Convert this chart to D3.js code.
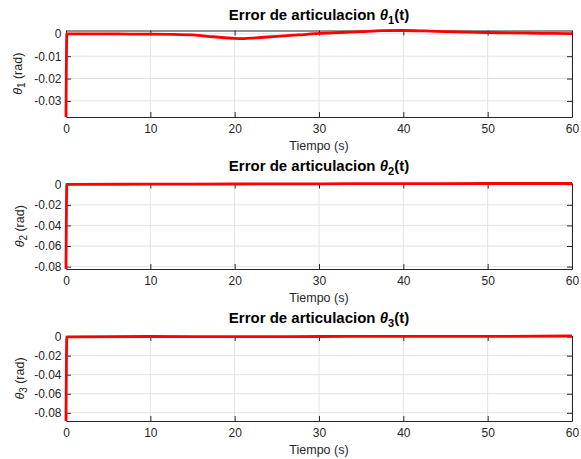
<!DOCTYPE html>
<html>
<head>
<meta charset="utf-8">
<script src="https://cdn.jsdelivr.net/npm/d3@7"></script>
<style>
  body { margin: 0; background: #fff; }
  text { font-family: "Liberation Sans", Arial, sans-serif; }
</style>
</head>
<body>
<svg id="chart" width="581" height="459"></svg>
<script>
// time samples (s)
const tiempo1 = [0, 0.1, 2.5, 5, 7.5, 10, 12.5, 15, 17.5, 20, 21, 22.5, 25, 27.5, 30, 32.5, 35, 37.5, 40, 42.5, 45, 47.5, 50, 52.5, 55, 57.5, 60];
const error1 = [-0.0372, 0, 0, 0, -0.0001, -0.0001, -0.0002, -0.0005, -0.0013, -0.0020, -0.0021, -0.0018, -0.0011, -0.0005, 0.0002, 0.0006, 0.0010, 0.0014, 0.0015, 0.0013, 0.0010, 0.0008, 0.0006, 0.0004, 0.0003, 0.0002, 0.0001];

const tiempo2 = [0, 0.1, 10, 20, 30, 40, 50, 60];
const error2 = [-0.0823, -0.0002, 0, 0.0002, 0.0004, 0.0006, 0.0007, 0.0007];

const tiempo3 = [0, 0.1, 10, 20, 30, 40, 50, 60];
const error3 = [-0.0886, -0.0003, 0.0001, -0.0001, 0.0001, 0.0003, 0.0002, 0.0006];

const xTicks = [0, 10, 20, 30, 40, 50, 60];
const yTicks1 = [0, -0.01, -0.02, -0.03];
const yTicks23 = [0, -0.02, -0.04, -0.06, -0.08];

const panels = [
  { sub: "1", t: tiempo1, e: error1, ticks: yTicks1, top: 30.5, bottom: 117, titleY: 20, labelX: 22 },
  { sub: "2", t: tiempo2, e: error2, ticks: yTicks23, top: 183.5, bottom: 269, titleY: 171, labelX: 24 },
  { sub: "3", t: tiempo3, e: error3, ticks: yTicks23, top: 336, bottom: 421, titleY: 323, labelX: 24 }
];

const svg = d3.select("#chart");
const left = 66, right = 572;
const axisColor = "#262626";
const fmt = d => (d === 0 ? "0" : String(d));

panels.forEach(p => {
  const g = svg.append("g");
  const x = d3.scaleLinear().domain([0, 60]).range([left, right]);
  const y = d3.scaleLinear().domain(d3.extent(p.e)).range([p.bottom, p.top]);

  // grid
  g.append("g").selectAll("line").data(xTicks).join("line")
    .attr("x1", d => x(d)).attr("x2", d => x(d))
    .attr("y1", p.top).attr("y2", p.bottom)
    .attr("stroke", "#e3e3e3").attr("stroke-width", 1);
  g.append("g").selectAll("line").data(p.ticks).join("line")
    .attr("x1", left).attr("x2", right)
    .attr("y1", d => y(d)).attr("y2", d => y(d))
    .attr("stroke", "#e3e3e3").attr("stroke-width", 1);

  // axes (ticks pointing inward, mirrored)
  const bottomAxis = d3.axisBottom(x).tickValues(xTicks).tickSizeInner(-5).tickSizeOuter(0).tickPadding(7.5).tickFormat(fmt);
  const topAxis = d3.axisTop(x).tickValues(xTicks).tickSizeInner(-5).tickSizeOuter(0).tickFormat("");
  const leftAxis = d3.axisLeft(y).tickValues(p.ticks).tickSizeInner(-5).tickSizeOuter(0).tickPadding(4.5).tickFormat(fmt);
  const rightAxis = d3.axisRight(y).tickValues(p.ticks).tickSizeInner(-5).tickSizeOuter(0).tickFormat("");

  const axes = [
    g.append("g").attr("transform", `translate(0,${p.bottom})`).call(bottomAxis),
    g.append("g").attr("transform", `translate(0,${p.top})`).call(topAxis),
    g.append("g").attr("transform", `translate(${left},0)`).call(leftAxis),
    g.append("g").attr("transform", `translate(${right},0)`).call(rightAxis)
  ];
  axes.forEach(a => {
    a.select(".domain").attr("stroke", axisColor);
    a.selectAll(".tick line").attr("stroke", axisColor);
    a.selectAll(".tick text").attr("fill", axisColor).style("font-size", "12px")
      .style("font-family", "'Liberation Sans', Arial, sans-serif");
  });

  // data line
  const line = d3.line().x((d, i) => x(p.t[i])).y(d => y(d)).curve(d3.curveMonotoneX);
  g.append("path").datum(p.e)
    .attr("d", line)
    .attr("fill", "none")
    .attr("stroke", "#ff0000")
    .attr("stroke-width", 2.8)
    .attr("stroke-linejoin", "round");

  // title
  const title = g.append("text")
    .attr("x", (left + right) / 2).attr("y", p.titleY)
    .attr("text-anchor", "middle")
    .style("font-size", "15px").style("font-weight", "bold").attr("fill", "#000");
  title.append("tspan").text("Error de articulacion ");
  title.append("tspan").text("θ").style("font-style", "italic");
  title.append("tspan").text(p.sub).attr("dy", 4).style("font-size", "11px");
  title.append("tspan").text("(t)").attr("dy", -4);

  // x label
  g.append("text")
    .attr("x", (left + right) / 2).attr("y", p.bottom + 33)
    .attr("text-anchor", "middle")
    .style("font-size", "12.5px").attr("fill", axisColor)
    .text("Tiempo (s)");

  // y label
  const yl = g.append("text")
    .attr("transform", `translate(${p.labelX},${(p.top + p.bottom) / 2}) rotate(-90)`)
    .attr("text-anchor", "middle")
    .style("font-size", "12.5px").attr("fill", axisColor);
  yl.append("tspan").text("θ").style("font-style", "italic");
  yl.append("tspan").text(p.sub).attr("dy", 3).style("font-size", "10px");
  yl.append("tspan").text(" (rad)").attr("dy", -3);
});
</script>
</body>
</html>
